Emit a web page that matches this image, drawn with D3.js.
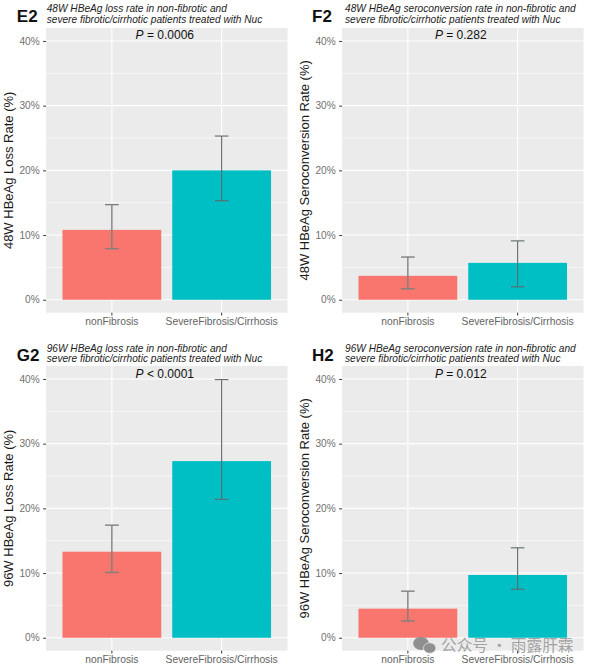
<!DOCTYPE html>
<html><head><meta charset="utf-8">
<script src="https://cdn.jsdelivr.net/npm/d3@7/dist/d3.min.js"></script>
<style>html,body{margin:0;padding:0;background:#fff}svg{display:block;font-family:"Liberation Sans",Arial,sans-serif}</style>
</head><body><div id="c"></div>
<script>
const categories = ["nonFibrosis","SevereFibrosis/Cirrhosis"];
const tickValues = [0,10,20,30,40];
const minorValues = [5,15,25,35];
const panelTags = ["E2","F2","G2","H2"];
const titleLine1 = ["48W HBeAg loss rate in non-fibrotic and","48W HBeAg seroconversion rate in non-fibrotic and","96W HBeAg loss rate in non-fibrotic and","96W HBeAg seroconversion rate in non-fibrotic and"];
const titleLine2 = "severe fibrotic/cirrhotic patients treated with Nuc";
const yTitles = ["48W HBeAg Loss Rate (%)","48W HBeAg Seroconversion Rate (%)","96W HBeAg Loss Rate (%)","96W HBeAg Seroconversion Rate (%)"];
const pLabels = ["= 0.0006","= 0.282","< 0.0001","= 0.012"];
const rates = [[10.8,20.0],[3.7,5.7],[13.3,27.3],[4.5,9.7]];
const lowers = [[7.9,15.3],[1.7,2.0],[10.1,21.4],[2.6,7.5]];
const uppers = [[14.7,25.3],[6.6,9.1],[17.4,39.9],[7.2,13.9]];
const barColors = ["#F8766D","#00BFC4"];

const svg = d3.select("#c").append("svg").attr("width",592).attr("height",669);
const lefts = [46,342,46,342], tops = [28,28,366,366];
const titleY1 = [-16,-16,-14,-14], titleY2 = [-5.4,-5.4,-3.6,-3.6], tagY = [-6.5,-6.5,-4.6,-4.6], pY = [10.8,10.8,11.7,11.7];
const W = 241.5, H = 284.7;

panelTags.forEach((tag,i)=>{
  const g = svg.append("g").attr("transform",`translate(${lefts[i]},${tops[i]})`);
  const x = d3.scaleBand().domain(categories).range([0,W]).paddingInner(0.1).paddingOuter(0.15);
  const y = d3.scaleLinear().domain([-2,42]).range([H,0]);
  g.append("rect").attr("width",W).attr("height",H).attr("fill","#EBEBEB");
  g.selectAll(".minor").data(minorValues).join("line").attr("x1",0).attr("x2",W)
    .attr("y1",d=>y(d)).attr("y2",d=>y(d)).attr("stroke","#fff").attr("stroke-width",0.6);
  g.selectAll(".major").data(tickValues).join("line").attr("x1",0).attr("x2",W)
    .attr("y1",d=>y(d)).attr("y2",d=>y(d)).attr("stroke","#fff").attr("stroke-width",1.1);
  g.selectAll(".vgrid").data(categories).join("line")
    .attr("x1",d=>x(d)+x.bandwidth()/2).attr("x2",d=>x(d)+x.bandwidth()/2)
    .attr("y1",0).attr("y2",H).attr("stroke","#fff").attr("stroke-width",1.1);
  g.selectAll(".bar").data(categories).join("rect")
    .attr("x",d=>x(d)).attr("width",x.bandwidth())
    .attr("y",(d,j)=>y(rates[i][j])).attr("height",(d,j)=>y(0)-y(rates[i][j]))
    .attr("fill",(d,j)=>barColors[j]);
  categories.forEach((c,j)=>{
    const cx = x(c)+x.bandwidth()/2;
    const eb = g.append("g").attr("stroke",j?"#5f6a6b":"#7f7f7f").attr("stroke-width",j?1.1:1.4).attr("fill","none");
    eb.append("line").attr("x1",cx).attr("x2",cx).attr("y1",y(lowers[i][j])).attr("y2",y(uppers[i][j]));
    [lowers[i][j],uppers[i][j]].forEach(v=>eb.append("line").attr("x1",cx-6.8).attr("x2",cx+6.8).attr("y1",y(v)).attr("y2",y(v)));
  });
  const ya = g.append("g").call(d3.axisLeft(y).tickValues(tickValues).tickSize(2.8).tickPadding(3.6).tickFormat(d=>d+"%"));
  ya.select(".domain").remove();
  ya.selectAll("line").attr("stroke","#333");
  ya.selectAll("text").attr("fill","#707070").attr("font-size",10.1).attr("font-family","inherit");
  const xa = g.append("g").attr("transform",`translate(0,${H})`).call(d3.axisBottom(x).tickSize(2.8).tickPadding(2.5));
  xa.select(".domain").remove();
  xa.selectAll("line").attr("stroke","#333");
  xa.selectAll("text").attr("fill","#636363").attr("font-size",10.3).attr("font-family","inherit");
  g.append("text").attr("transform",`translate(-32.7,${y(20)}) rotate(-90)`)
    .attr("text-anchor","middle").attr("font-size",13).attr("fill","#1a1a1a").text(yTitles[i]);
  const p = g.append("text").attr("x",118.8).attr("y",pY[i])
    .attr("text-anchor","middle").attr("font-size",12).attr("fill","#111");
  p.append("tspan").attr("font-style","italic").text("P");
  p.append("tspan").text(" "+pLabels[i]);
  const tx = i%2 ? 3 : 0.7;
  g.append("text").attr("x",tx).attr("y",titleY1[i]).attr("font-size",10.15).attr("font-style","italic").attr("fill","#222").text(titleLine1[i]);
  g.append("text").attr("x",tx).attr("y",titleY2[i]).attr("font-size",10.15).attr("font-style","italic").attr("fill","#222").text(titleLine2);
  g.append("text").attr("x",i%2?-30:-29.2).attr("y",tagY[i]).attr("font-size",17).attr("font-weight",700).attr("fill","#111").text(tag);
});

// watermark
const wm = svg.append("g");
wm.append("ellipse").attr("cx",421).attr("cy",643.3).attr("rx",7.8).attr("ry",6.6).attr("fill","#8f8f8f");
wm.append("ellipse").attr("cx",429.7).attr("cy",648).attr("rx",6.2).attr("ry",5.2).attr("fill","#8f8f8f").attr("stroke","#e8e8e8").attr("stroke-width",0.7);
wm.append("text").attr("x",441).attr("y",651).attr("font-size",15.7).attr("font-family","'Noto Sans CJK SC'").attr("fill","#a3a3a3").text("公众号 · 雨露肝霖");
</script></body></html>
